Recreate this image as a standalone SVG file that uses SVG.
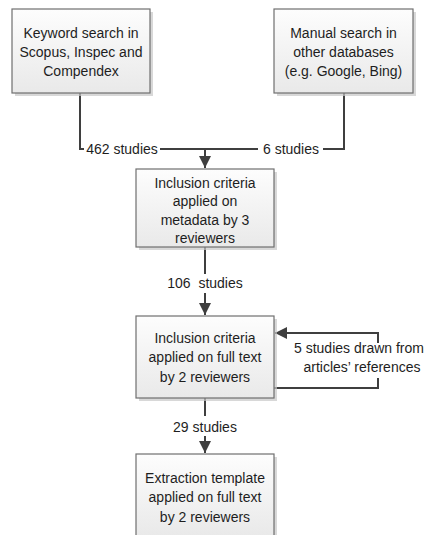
<svg xmlns="http://www.w3.org/2000/svg" width="428" height="535" viewBox="0 0 428 535">
<defs>
<linearGradient id="g" x1="0" y1="0" x2="0" y2="1">
<stop offset="0" stop-color="#fdfdfd"/>
<stop offset="1" stop-color="#e9e9e9"/>
</linearGradient>
<marker id="ah" markerWidth="12" markerHeight="12" viewBox="0 0 12 12" refX="12" refY="6" orient="auto" markerUnits="userSpaceOnUse">
<path d="M0,0 L12,6 L0,12 Z" fill="#3f3f3f"/>
</marker>
</defs>
<style>
.box{fill:url(#g);stroke:#6f6f6f;stroke-width:1.2}
.sh{fill:#c8c8c8;opacity:0.7}
.t{font-family:"Liberation Sans",Arial,sans-serif;font-size:14px;fill:#1e1e1e;text-anchor:middle}
.c{fill:none;stroke:#3f3f3f;stroke-width:2}
</style>
<g id="connectors">
<path class="c" d="M80,93 V149 H84"/>
<path class="c" d="M160,149 H258"/>
<path class="c" d="M323,149 H344 V93"/>
<path class="c" d="M205,149 V168" marker-end="url(#ah)"/>
<path class="c" d="M205,247 V274"/>
<path class="c" d="M205,293 V315" marker-end="url(#ah)"/>
<path class="c" d="M274,388 H378 V378"/>
<path class="c" d="M378,343 V333 H275" marker-end="url(#ah)"/>
<path class="c" d="M205,398 V416"/>
<path class="c" d="M205,436 V453" marker-end="url(#ah)"/>
<text class="t" x="122" y="154">462 studies</text>
<text class="t" x="291" y="154">6 studies</text>
<text class="t" x="205" y="288" xml:space="preserve">106  studies</text>
<text class="t" x="205" y="432">29 studies</text>
<text class="t" x="359" y="353" font-size="13.5">5 studies drawn from</text>
<text class="t" x="362" y="372" font-size="13.5">articles’ references</text>
</g>
<g id="n1">
<rect class="sh" x="15" y="12" width="138" height="84"/>
<rect class="box" x="12" y="9" width="138" height="84"/>
<text class="t" x="81" y="38">Keyword search in</text>
<text class="t" x="81" y="57">Scopus, Inspec and</text>
<text class="t" x="81" y="76">Compendex</text>
</g>
<g id="n2">
<rect class="sh" x="277" y="12" width="139" height="84"/>
<rect class="box" x="274" y="9" width="139" height="84"/>
<text class="t" x="343.5" y="38">Manual search in</text>
<text class="t" x="343.5" y="57">other databases</text>
<text class="t" x="343.5" y="76">(e.g. Google, Bing)</text>
</g>
<g id="n3">
<rect class="sh" x="139" y="172" width="138" height="78"/>
<rect class="box" x="136" y="169" width="138" height="78"/>
<text class="t" x="205" y="188">Inclusion criteria</text>
<text class="t" x="205" y="206">applied on</text>
<text class="t" x="205" y="225">metadata by 3</text>
<text class="t" x="205" y="243">reviewers</text>
</g>
<g id="n4">
<rect class="sh" x="139" y="319" width="138" height="82"/>
<rect class="box" x="136" y="316" width="138" height="82"/>
<text class="t" x="205" y="343">Inclusion criteria</text>
<text class="t" x="205" y="362">applied on full text</text>
<text class="t" x="205" y="382">by 2 reviewers</text>
</g>
<g id="n5">
<rect class="sh" x="139" y="457" width="138" height="82"/>
<rect class="box" x="136" y="454" width="138" height="82"/>
<text class="t" x="205" y="483">Extraction template</text>
<text class="t" x="205" y="502">applied on full text</text>
<text class="t" x="205" y="522">by 2 reviewers</text>
</g>
</svg>
